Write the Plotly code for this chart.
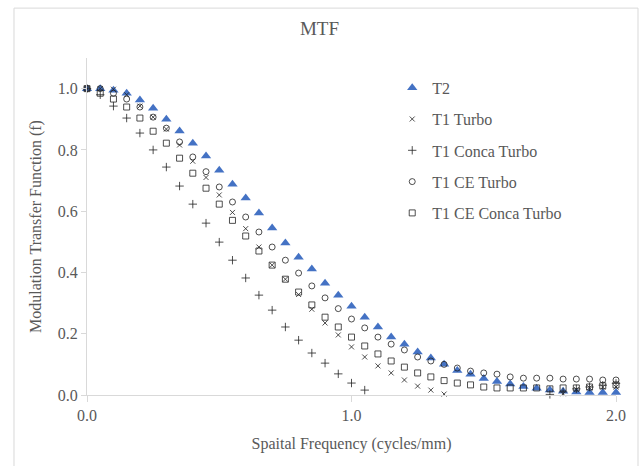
import plotly.graph_objects as go

freq = [0.00, 0.05, 0.10, 0.15, 0.20, 0.25, 0.30, 0.35, 0.40, 0.45,
        0.50, 0.55, 0.60, 0.65, 0.70, 0.75, 0.80, 0.85, 0.90, 0.95,
        1.00, 1.05, 1.10, 1.15, 1.20, 1.25, 1.30, 1.35, 1.40, 1.45,
        1.50, 1.55, 1.60, 1.65, 1.70, 1.75, 1.80, 1.85, 1.90, 1.95, 2.00]

t2 = [1.00, 1.00, 0.995, 0.985, 0.963, 0.936, 0.900, 0.862, 0.822, 0.780,
      0.734, 0.688, 0.643, 0.594, 0.545, 0.496, 0.450, 0.411, 0.365, 0.326,
      0.290, 0.254, 0.222, 0.189, 0.166, 0.140, 0.121, 0.100, 0.080, 0.068,
      0.054, 0.044, 0.036, 0.028, 0.022, 0.016, 0.012, 0.010, 0.008, 0.008, 0.008]

t1_turbo = [1.00, 1.00, 0.998, 0.980, 0.943, 0.907, 0.868, 0.816, 0.763, 0.710,
            0.653, 0.596, 0.543, 0.483, 0.424, 0.378, 0.328, 0.280, 0.235, 0.196,
            0.157, 0.124, 0.095, 0.072, 0.049, 0.029, 0.016, 0.003, None, None,
            None, None, None, None, None, None, 0.004, 0.018, 0.024, 0.026, 0.026]

t1_conca_turbo = [1.00, 0.980, 0.943, 0.904, 0.855, 0.800, 0.744, 0.682, 0.623, 0.561,
                  0.499, 0.440, 0.382, 0.326, 0.277, 0.222, 0.179, 0.137, 0.104, 0.069,
                  0.039, 0.016, None, None, None, None, None, None, None, None,
                  None, None, None, None, None, 0.002, 0.010, 0.020, 0.026, 0.032, 0.038]

t1_ce_turbo = [1.00, 1.00, 0.985, 0.966, 0.940, 0.907, 0.871, 0.826, 0.777, 0.729,
               0.679, 0.630, 0.581, 0.532, 0.483, 0.440, 0.398, 0.356, 0.317, 0.282,
               0.248, 0.219, 0.189, 0.166, 0.147, 0.124, 0.111, 0.100, 0.088, 0.078,
               0.072, 0.068, 0.059, 0.055, 0.055, 0.055, 0.052, 0.052, 0.052, 0.049, 0.049]

t1_ce_conca_turbo = [1.00, 0.985, 0.966, 0.940, 0.904, 0.861, 0.822, 0.773, 0.724, 0.675,
                     0.623, 0.570, 0.519, 0.470, 0.424, 0.378, 0.336, 0.294, 0.254, 0.222,
                     0.189, 0.160, 0.134, 0.111, 0.091, 0.072, 0.059, 0.047, 0.039, 0.033,
                     0.026, 0.023, 0.023, 0.023, 0.023, 0.020, 0.023, 0.023, 0.026, 0.030, 0.033]

series = [
    ("T2", t2, "triangle-up", 9, "#4472C4"),
    ("T1 Turbo", t1_turbo, "x-thin-open", 5, "#222222"),
    ("T1 Conca Turbo", t1_conca_turbo, "cross-thin-open", 6, "#222222"),
    ("T1 CE Turbo", t1_ce_turbo, "circle-open", 6, "#222222"),
    ("T1 CE Conca Turbo", t1_ce_conca_turbo, "square-open", 6, "#222222"),
]

FONT = "Liberation Serif"
GREY = "#595959"

fig = go.Figure()
for i, (name, vals, sym, size, col) in enumerate(series):
    marker = dict(symbol=sym, size=size, color=col)
    if sym != "triangle-up":
        marker["line"] = dict(width=0.8, color=col)
    fig.add_trace(go.Scatter(
        x=freq, y=vals, mode="markers", name=name, marker=marker,
        cliponaxis=False, legendgroup=f"g{i}"
    ))

fig.update_layout(
    width=639, height=466,
    margin=dict(l=87, r=23, t=58, b=71),
    paper_bgcolor="white", plot_bgcolor="white",
    font=dict(family=FONT, color=GREY, size=16),
    title=dict(text="MTF", x=0.5, xanchor="center", y=0.94, yanchor="middle",
               xref="container", font=dict(family=FONT, size=19, color=GREY)),
    showlegend=True,
    legend=dict(x=0.577, y=0.962, xanchor="left", yanchor="top",
                font=dict(family=FONT, size=16, color=GREY),
                bgcolor="rgba(0,0,0,0)", tracegroupgap=7.5),
    xaxis=dict(range=[0, 2.0], tickvals=[0, 1.0, 2.0], tickformat=".1f",
               showline=True, linecolor="#d9d9d9", linewidth=1,
               ticks="outside", ticklen=6, tickcolor="#d9d9d9",
               showgrid=False, zeroline=False,
               tickfont=dict(family=FONT, size=16, color=GREY),
               title=dict(text="Spaital Frequency (cycles/mm)", standoff=14,
                          font=dict(family=FONT, size=16, color=GREY))),
    yaxis=dict(range=[0, 1.1], tickvals=[0, 0.2, 0.4, 0.6, 0.8, 1.0], tickformat=".1f",
               showline=True, linecolor="#d9d9d9", linewidth=1,
               ticks="outside", ticklen=5, tickcolor="#d9d9d9",
               showgrid=False, zeroline=False,
               tickfont=dict(family=FONT, size=16, color=GREY),
               title=dict(text="Modulation Transfer Function (f)", standoff=12,
                          font=dict(family=FONT, size=16, color=GREY))),
    shapes=[dict(type="rect", xref="paper", yref="paper",
                 x0=-0.138, x1=1.0416, y0=-0.22, y1=1.148,
                 line=dict(color="#d9d9d9", width=1), layer="below")],
)

fig.write_html("out.html")
